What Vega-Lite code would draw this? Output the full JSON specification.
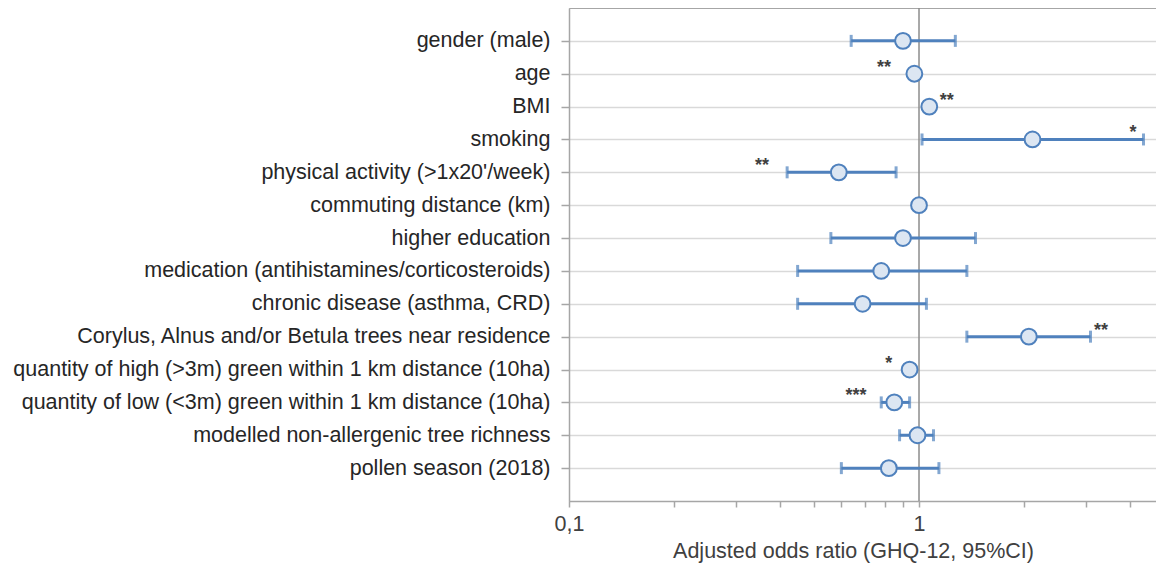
{
  "$schema": "https://vega.github.io/schema/vega-lite/v6.json",
  "width": 588,
  "height": 493,
  "autosize": {"type": "none"},
  "padding": {"left": 569, "top": 8, "right": 0, "bottom": 69},
  "background": "white",
  "config": {
    "font": "Liberation Sans",
    "view": {"stroke": "#a6a6a6", "strokeWidth": 1}
  },
  "data": {
    "values": [
      {"variable": "gender (male)", "or": 0.90, "lo": 0.64, "hi": 1.27, "sig": "", "sig_at": null},
      {"variable": "age", "or": 0.97, "lo": null, "hi": null, "sig": "**", "sig_at": 0.794},
      {"variable": "BMI", "or": 1.07, "lo": null, "hi": null, "sig": "**", "sig_at": 1.20},
      {"variable": "smoking", "or": 2.11, "lo": 1.02, "hi": 4.38, "sig": "*", "sig_at": 4.09},
      {"variable": "physical activity (>1x20'/week)", "or": 0.59, "lo": 0.42, "hi": 0.86, "sig": "**", "sig_at": 0.356},
      {"variable": "commuting distance (km)", "or": 1.00, "lo": null, "hi": null, "sig": "", "sig_at": null},
      {"variable": "higher education", "or": 0.90, "lo": 0.56, "hi": 1.45, "sig": "", "sig_at": null},
      {"variable": "medication (antihistamines/corticosteroids)", "or": 0.78, "lo": 0.45, "hi": 1.37, "sig": "", "sig_at": null},
      {"variable": "chronic disease (asthma, CRD)", "or": 0.69, "lo": 0.45, "hi": 1.05, "sig": "", "sig_at": null},
      {"variable": "Corylus, Alnus and/or Betula trees near residence", "or": 2.06, "lo": 1.37, "hi": 3.09, "sig": "**", "sig_at": 3.31},
      {"variable": "quantity of high (>3m) green within 1 km distance (10ha)", "or": 0.94, "lo": null, "hi": null, "sig": "*", "sig_at": 0.82},
      {"variable": "quantity of low (<3m) green within 1 km distance (10ha)", "or": 0.85, "lo": 0.78, "hi": 0.94, "sig": "***", "sig_at": 0.661},
      {"variable": "modelled non-allergenic tree richness", "or": 0.99, "lo": 0.88, "hi": 1.10, "sig": "", "sig_at": null},
      {"variable": "pollen season (2018)", "or": 0.82, "lo": 0.60, "hi": 1.14, "sig": "", "sig_at": null}
    ]
  },
  "layer": [
    {
      "mark": {"type": "rule", "color": "#8c8c8c", "strokeWidth": 1.5},
      "encoding": {
        "x": {
          "field": "or",
          "type": "quantitative",
          "aggregate": "min",
          "title": "Adjusted odds ratio (GHQ-12, 95%CI)",
          "scale": {"type": "log", "domain": [0.1, 4.786], "nice": false},
          "axis": {
            "values": [0.1, 0.2, 0.3, 0.4, 0.5, 0.6, 0.7, 0.8, 0.9, 1, 2, 3, 4],
            "labelExpr": "datum.value == 0.1 ? '0,1' : (datum.value == 1 ? '1' : '')",
            "grid": false,
            "domainColor": "#a6a6a6",
            "domainWidth": 1.5,
            "tickColor": "#a6a6a6",
            "tickSize": 6,
            "tickWidth": 1.5,
            "labelFontSize": 21.5,
            "labelColor": "#404040",
            "labelPadding": 6,
            "labelFlush": false,
            "labelOverlap": false,
            "titleFontSize": 21.5,
            "titleFontWeight": "normal",
            "titleColor": "#404040",
            "titleX": 284,
            "titleY": 50,
            "titleAlign": "center",
            "titleBaseline": "middle"
          }
        }
      },
      "transform": [{"filter": "datum.variable == 'commuting distance (km)'"}]
    },
    {
      "transform": [{"filter": "isValid(datum.lo)"}],
      "mark": {"type": "rule", "color": "#4f81bd", "strokeWidth": 3},
      "encoding": {
        "y": {
          "field": "variable",
          "type": "nominal",
          "sort": null,
          "scale": {
            "type": "point",
            "padding": 1,
            "domain": [
              "gender (male)",
              "age",
              "BMI",
              "smoking",
              "physical activity (>1x20'/week)",
              "commuting distance (km)",
              "higher education",
              "medication (antihistamines/corticosteroids)",
              "chronic disease (asthma, CRD)",
              "Corylus, Alnus and/or Betula trees near residence",
              "quantity of high (>3m) green within 1 km distance (10ha)",
              "quantity of low (<3m) green within 1 km distance (10ha)",
              "modelled non-allergenic tree richness",
              "pollen season (2018)"
            ]
          },
          "axis": {
            "title": null,
            "grid": true,
            "gridColor": "#d9d9d9",
            "gridWidth": 1.5,
            "domainColor": "#a6a6a6",
            "domainWidth": 1.5,
            "tickColor": "#a6a6a6",
            "tickSize": 8,
            "tickWidth": 1.5,
            "labelFontSize": 21.5,
            "labelColor": "#262626",
            "labelPadding": 11,
            "labelLimit": 700
          }
        },
        "x": {"field": "lo", "type": "quantitative", "title": "Adjusted odds ratio (GHQ-12, 95%CI)"},
        "x2": {"field": "hi"}
      }
    },
    {
      "transform": [{"filter": "isValid(datum.lo)"}],
      "mark": {"type": "tick", "orient": "vertical", "size": 12, "thickness": 3, "color": "#4f81bd"},
      "encoding": {
        "y": {"field": "variable", "type": "nominal", "sort": null},
        "x": {"field": "lo", "type": "quantitative", "title": "Adjusted odds ratio (GHQ-12, 95%CI)"}
      }
    },
    {
      "transform": [{"filter": "isValid(datum.hi)"}],
      "mark": {"type": "tick", "orient": "vertical", "size": 12, "thickness": 3, "color": "#4f81bd"},
      "encoding": {
        "y": {"field": "variable", "type": "nominal", "sort": null},
        "x": {"field": "hi", "type": "quantitative", "title": "Adjusted odds ratio (GHQ-12, 95%CI)"}
      }
    },
    {
      "mark": {"type": "circle", "size": 250, "fill": "#dce6f2", "stroke": "#4f81bd", "strokeWidth": 2, "opacity": 1},
      "encoding": {
        "y": {"field": "variable", "type": "nominal", "sort": null},
        "x": {"field": "or", "type": "quantitative", "title": "Adjusted odds ratio (GHQ-12, 95%CI)"}
      }
    },
    {
      "transform": [{"filter": "isValid(datum.sig_at)"}],
      "mark": {"type": "text", "fontSize": 18, "fontWeight": "bold", "color": "#404040", "align": "center", "baseline": "middle", "dy": -6},
      "encoding": {
        "y": {"field": "variable", "type": "nominal", "sort": null},
        "x": {"field": "sig_at", "type": "quantitative", "title": "Adjusted odds ratio (GHQ-12, 95%CI)"},
        "text": {"field": "sig"}
      }
    }
  ]
}
